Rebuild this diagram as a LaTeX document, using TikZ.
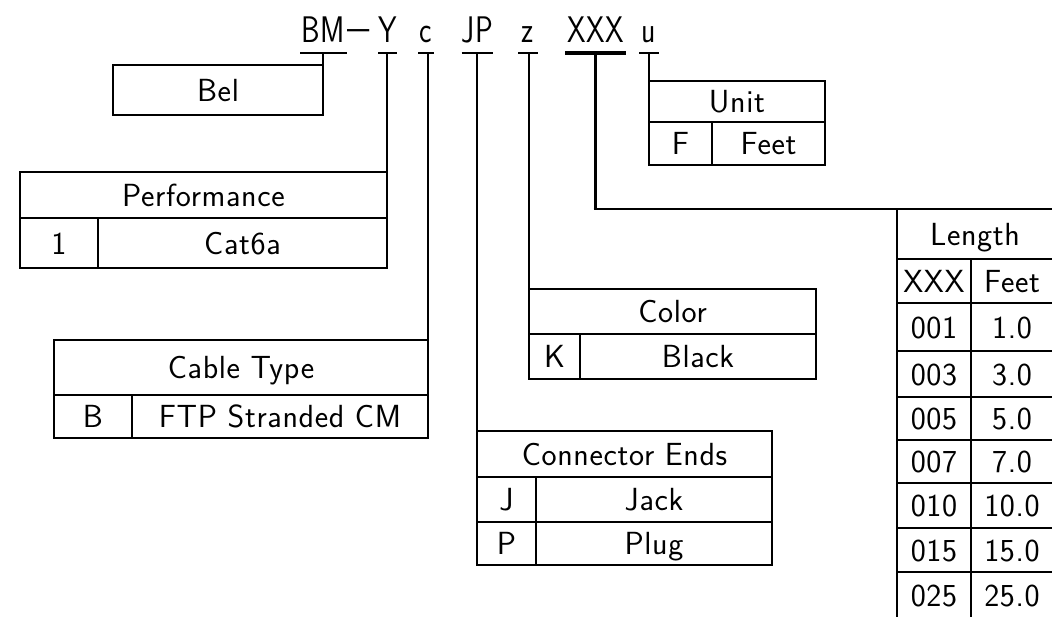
\documentclass[tikz,border=0pt]{standalone}
\usepackage{fontspec}
\newfontfamily\cadfont[LetterSpace=2]{Latin Modern Sans}
\newfontfamily\titlefont[FakeStretch=0.8,LetterSpace=2]{Latin Modern Sans}
\begin{document}
\begin{tikzpicture}[x=1pt,y=-1pt,
  cell/.style={draw, line width=1.6pt, inner sep=0pt, outer sep=0pt, anchor=north west,
    font=\cadfont\fontsize{32}{32}\selectfont, text height=22pt, text depth=0pt, align=center},
  seg/.style={inner sep=0pt, outer sep=0pt, anchor=base, font=\titlefont\fontsize{37}{37}\selectfont},
  tick/.style={line width=1.6pt},
  thickln/.style={line width=3.8pt}
]
\useasboundingbox (0,0) rectangle (1052,616);

% ---- title segments ----
\node[seg, minimum width=47pt] (sBM) at (323.5,42) {BM};
\node[seg] (sdash) at (359,42) {\raisebox{2pt}{\scalebox{1.6}[1]{–}}};
\node[seg, minimum width=15pt] (sY) at (387.5,42) {Y};
\node[seg, minimum width=16pt] (sc) at (426,42) {c};
\node[seg, minimum width=31pt] (sJP) at (477.5,42) {JP};
\node[seg, minimum width=20pt] (sz) at (528,42) {z};
\node[seg, minimum width=61pt] (sXXX) at (595.5,42) {XXX};
\node[seg, minimum width=20pt] (su) at (649,42) {u};

\foreach \s in {BM,Y,c,JP,z,u}{
  \draw[tick] ([yshift=-11pt]s\s.base west) -- ([yshift=-11pt]s\s.base east);
  \coordinate (u\s) at ([yshift=-11pt]s\s.base);
}
\draw[thickln] ([yshift=-11pt]sXXX.base west) -- ([yshift=-11pt]sXXX.base east);
\coordinate (uXXX) at ([yshift=-11pt]sXXX.base);

% ---- Bel ----
\node[cell, minimum width=210pt, minimum height=50pt] (bel) at (113,65) {Bel};

% ---- Performance ----
\node[cell, minimum width=367pt, minimum height=46pt] (perfH) at (20,172) {Performance};
\node[cell, minimum width=78pt, minimum height=50pt] (perfK) at (20,218) {1};
\node[cell, minimum width=289pt, minimum height=50pt] (perfV) at (98,218) {Cat6a};

% ---- Cable Type ----
\node[cell, minimum width=374pt, minimum height=55pt] (cabH) at (54,340) {Cable Type};
\node[cell, minimum width=78pt, minimum height=43pt] (cabK) at (54,395) {B};
\node[cell, minimum width=296pt, minimum height=43pt] (cabV) at (132,395) {FTP Stranded CM};

% ---- Connector Ends ----
\node[cell, minimum width=295pt, minimum height=46pt] (conH) at (477,431) {Connector Ends};
\node[cell, minimum width=59pt, minimum height=45pt] (conJk) at (477,477) {J};
\node[cell, minimum width=236pt, minimum height=45pt] (conJv) at (536,477) {Jack};
\node[cell, minimum width=59pt, minimum height=43pt] (conPk) at (477,522) {P};
\node[cell, minimum width=236pt, minimum height=43pt] (conPv) at (536,522) {Plug};

% ---- Color ----
\node[cell, minimum width=287pt, minimum height=45pt] (colH) at (529,289) {Color};
\node[cell, minimum width=51pt, minimum height=45pt] (colK) at (529,334) {K};
\node[cell, minimum width=236pt, minimum height=45pt] (colV) at (580,334) {Black};

% ---- Unit ----
\node[cell, minimum width=176pt, minimum height=41pt] (unitH) at (649,81) {Unit};
\node[cell, minimum width=63pt, minimum height=43pt] (unitK) at (649,122) {F};
\node[cell, minimum width=113pt, minimum height=43pt] (unitV) at (712,122) {Feet};

% ---- Length ----
\node[cell, minimum width=156pt, minimum height=50pt] (lenH) at (897,209) {Length};
\foreach \y/\h/\k/\v/\n in {259/44/XXX/Feet/0, 303/48/001/1.0/1, 351/46/003/3.0/2,
  397/43/005/5.0/3, 440/43/007/7.0/4, 483/45/010/10.0/5, 528/44/015/15.0/6, 572/46/025/25.0/7}{
  \node[cell, minimum width=74pt, minimum height=\h pt] (lk\n) at (897,\y) {\k};
  \node[cell, minimum width=82pt, minimum height=\h pt] (lv\n) at (971,\y) {\v};
}

% ---- connectors ----
\draw[tick] (uBM -| bel.north east) -- (bel.north east);
\draw[tick] (uY -| perfH.north east) -- (perfH.north east);
\draw[tick] (uc -| cabH.north east) -- (cabH.north east);
\draw[tick] (uJP -| conH.north west) -- (conH.north west);
\draw[tick] (uz -| colH.north west) -- (colH.north west);
\draw[tick] (uu -| unitH.north west) -- (unitH.north west);
\coordinate (xc) at (uXXX |- lenH.north);
\draw[thickln] (uXXX) -- ([yshift=-0.8pt]xc);
\draw[tick] ([xshift=-1.9pt]xc) -- (lenH.north west);
\end{tikzpicture}
\end{document}
